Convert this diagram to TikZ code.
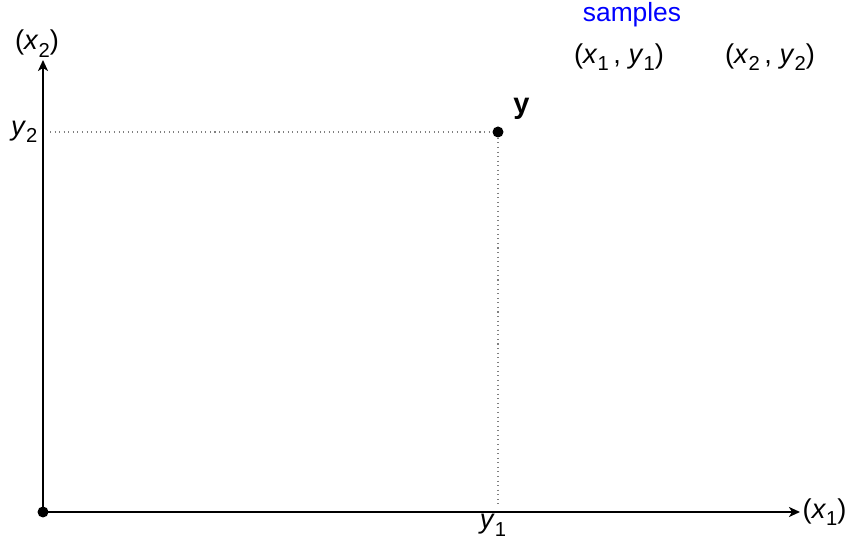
\documentclass[tikz,border=0pt]{standalone}
\usepackage{fontspec}
\setmainfont{Liberation Sans}
\usetikzlibrary{calc, positioning}
\usetikzlibrary{arrows.meta}

\newcommand{\sv}[2]{\textit{#1}\raisebox{-0.28em}{\fontsize{11.5}{13}\selectfont #2}}

\begin{document}
\begin{tikzpicture}[font=\fontsize{15.5}{18}\selectfont,
  axis/.style={-{Stealth[length=2.2mm, width=2mm, inset=0.6mm]}, line width=1.1pt},
  guide/.style={dotted, gray, line width=0.6pt},
  dot/.style={circle, fill=black, inner sep=0pt, minimum size=2.2mm}]
\useasboundingbox (0,0) rectangle (17.02,10.8);
\coordinate (O) at (0.86,0.56);
\coordinate (xend) at (16.0,0.56);
\coordinate (yend) at (0.86,9.6);
\draw[axis] (O) -- (xend) node[right, inner sep=1pt] (xlab) {(\sv{x}{1})};
\draw[axis] (O) -- (yend) node[above, xshift=-0.12cm, inner sep=1pt] (ylab) {(\sv{x}{2})};
\node[dot] (o) at (O) {};
% target point and its projections
\node[dot] (p) at (9.96,8.16) {};
\node[left, inner sep=3pt] (py) at (0.86,8.16) {\sv{y}{2}};
\node[below, inner sep=1pt, xshift=-0.1cm] (px) at (9.96,0.56) {\sv{y}{1}};
\draw[guide] (1.0,8.16) -- (p);
\draw[guide] (p) -- (9.96,0.7);
\node[above right=0.05cm and 0.1cm of p, font=\fontsize{16.5}{19}\selectfont] (plab) {\textbf{y}};
% samples
\node[blue, font=\fontsize{15}{18}\selectfont] (smp) at (12.64,10.5) {samples};
\node (s1) at (12.38,9.66) {(\sv{x}{1}\,, \sv{y}{1})};
\node (s2) at (15.4,9.66) {(\sv{x}{2}\,, \sv{y}{2})};
\end{tikzpicture}
\end{document}
